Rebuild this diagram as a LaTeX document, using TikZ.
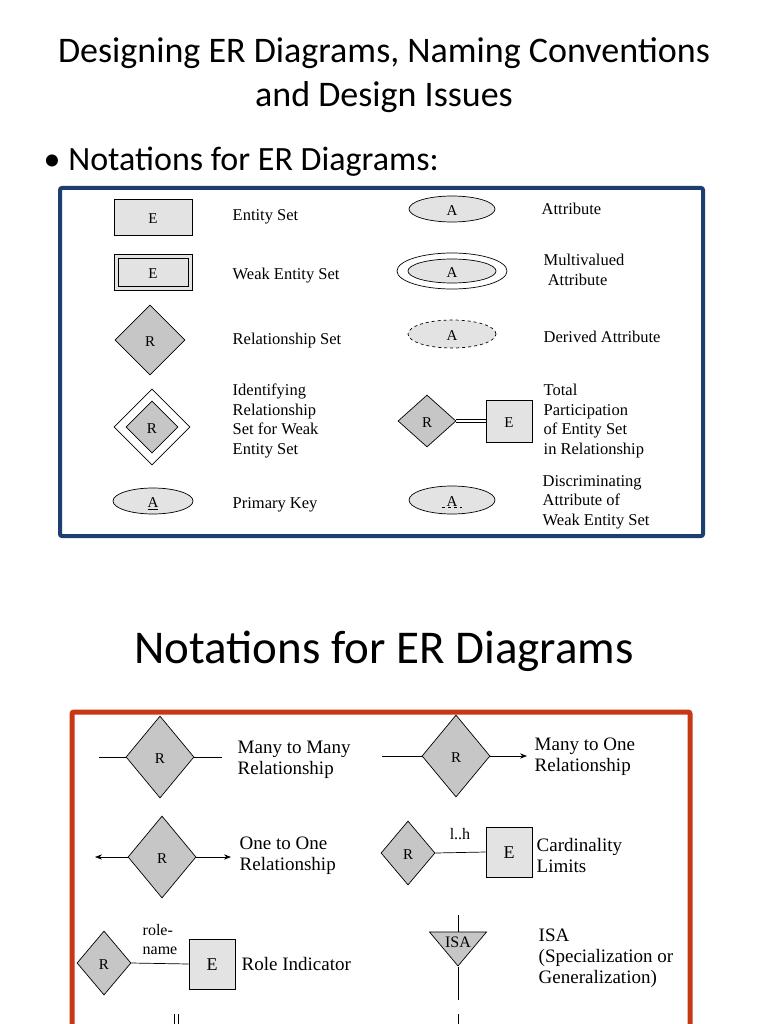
\documentclass[tikz,border=0pt]{standalone}
\usepackage{fontspec}
\setmainfont{Liberation Serif}
\newfontfamily\slidefont{Carlito}
\usetikzlibrary{shapes.geometric,arrows.meta}
\definecolor{boxblue}{RGB}{31,62,112}
\definecolor{boxred}{RGB}{200,55,20}
\tikzset{
    every path/.style={line width=0.7pt},
    ent/.style={draw,fill=gray!22,minimum width=46pt,minimum height=44pt,inner sep=0pt,text height=13pt,text depth=0pt,font=\fontsize{15}{18}\selectfont},
    rel/.style={draw,fill=gray!45,diamond,inner sep=0pt,text height=13pt,text depth=0pt,font=\fontsize{15}{18}\selectfont},
    attr/.style={draw,fill=gray!22,ellipse,inner sep=0pt,text height=13pt,text depth=0pt,font=\fontsize{15}{18}\selectfont},
    lbl/.style={anchor=west,align=left,font=\fontsize{16.5}{19.5}\selectfont},
    big/.style={anchor=west,align=left,font=\fontsize{19}{21}\selectfont}
}
\begin{document}
\begin{tikzpicture}[x=1pt,y=-1pt]
\useasboundingbox (0,0) rectangle (768,1024);
\fill[white] (0,0) rectangle (768,1024);
% titles
\node[font=\slidefont\fontsize{36}{44}\selectfont,align=center] (title) at (384,75)
    {Designing ER Diagrams, Naming Conventions\\and Design Issues};
\node[font=\slidefont\fontsize{34}{40}\selectfont,anchor=west] (bullet) at (40,162) {\textbullet\ Notations for ER Diagrams:};
\node[font=\slidefont\fontsize{47}{54}\selectfont] (heading) at (384,651) {Notations for ER Diagrams};
% blue panel
\draw[boxblue,line width=4pt,rounded corners=2pt] (60,188) rectangle (703,536);
\node[ent,minimum width=78pt,minimum height=36pt] (E1) at (153,217) {E};
\node[lbl] (tE1) at (229,217) {Entity Set};
\node[ent,minimum width=78pt,minimum height=36pt] (E2) at (153,272) {};
\node[draw,minimum width=70pt,minimum height=28pt,inner sep=0pt,text height=13pt,text depth=0pt,font=\fontsize{15}{18}\selectfont] (E2in) at (E2) {E};
\node[lbl] (tE2) at (229,276) {Weak Entity Set};
\node[rel,minimum width=70pt,minimum height=70pt] (R1) at (150,340) {R};
\node[lbl] (tR1) at (229,341) {Relationship Set};
\node[draw,diamond,fill=white,minimum width=76pt,minimum height=76pt] (R2) at (152,427) {};
\node[rel,minimum width=52pt,minimum height=52pt] (R2in) at (R2) {R};
\node[lbl] (tR2) at (229,421) {Identifying\\Relationship\\Set for Weak\\Entity Set};
\node[attr,minimum width=80pt,minimum height=26pt] (A5) at (153,501) {\underline{A}};
\node[lbl] (tA5) at (229,505) {Primary Key};
\node[attr,minimum width=86pt,minimum height=26pt] (A1) at (452,209) {A};
\node[lbl] (tA1) at (538,209) {Attribute};
\node[draw,ellipse,minimum width=110pt,minimum height=36pt] (A2) at (452,271) {};
\node[attr,minimum width=88pt,minimum height=24pt] (A2in) at (A2) {A};
\node[lbl] (tA2) at (540,270) {Multivalued\\\ Attribute};
\node[attr,dashed,minimum width=88pt,minimum height=28pt] (A3) at (452,334) {A};
\node[lbl] (tA3) at (540,337) {Derived Attribute};
\node[rel,minimum width=58pt,minimum height=52pt] (R3) at (427,421) {R};
\node[ent,minimum width=46pt,minimum height=42pt] (E3) at (509,421) {E};
\draw ([yshift=-1.5pt]R3.east) -- ([yshift=-1.5pt]E3.west);
\draw ([yshift=1.5pt]R3.east) -- ([yshift=1.5pt]E3.west);
\node[lbl] (tE3) at (540,421) {Total\\Participation\\of Entity Set\\in Relationship};
\node[attr,minimum width=86pt,minimum height=28pt] (A4) at (452,500) {A};
\draw[dashed] ([xshift=-10pt,yshift=-7pt]A4.center) -- ([xshift=10pt,yshift=-7pt]A4.center);
\node[lbl] (tA4) at (539,502) {Discriminating\\Attribute of\\Weak Entity Set};
% red panel
\draw[boxred,line width=5pt,rounded corners=2pt] (72,1030) -- (72,712) -- (690,712) -- (690,1030);
\node[rel,minimum width=68pt,minimum height=82pt] (R4) at (160,757) {R};
\coordinate (m1) at (99,757);
\coordinate (m2) at (222,757);
\draw (m1) -- (R4.west) (R4.east) -- (m2);
\node[big] (tR4) at (234,760) {Many to Many\\Relationship};
\node[rel,minimum width=68pt,minimum height=82pt] (R5) at (456,756) {R};
\coordinate (o1) at (382,756);
\coordinate (o2) at (527,756);
\draw (o1) -- (R5.west);
\draw[-{Stealth[length=7pt]}] (R5.east) -- (o2);
\node[big] (tR5) at (531,757) {Many to One\\Relationship};
\node[rel,minimum width=68pt,minimum height=82pt] (R6) at (162,857) {R};
\coordinate (n1) at (95,857);
\coordinate (n2) at (231,857);
\draw[-{Stealth[length=7pt]}] (R6.west) -- (n1);
\draw[-{Stealth[length=7pt]}] (R6.east) -- (n2);
\node[big] (tR6) at (236,856) {One to One\\Relationship};
\node[rel,minimum width=54pt,minimum height=64pt] (R7) at (408,853) {R};
\node[ent,minimum width=46pt,minimum height=50pt,font=\fontsize{18}{20}\selectfont] (E7) at (509,852) {E};
\draw (R7.east) -- (E7.west);
\node[font=\fontsize{16}{18}\selectfont] (lh) at (460,834) {l..h};
\node[big] (tE7) at (533,855) {Cardinality\\Limits};
\node[rel,minimum width=54pt,minimum height=64pt] (R8) at (104,963) {R};
\node[ent,minimum width=46pt,minimum height=50pt,font=\fontsize{18}{20}\selectfont] (E8) at (212,964) {E};
\draw (R8.east) -- (E8.west);
\node[font=\fontsize{16}{19}\selectfont,align=left] (role) at (160,940) {role-\\name};
\node[big] (tE8) at (238,964) {Role Indicator};
\node[draw,fill=gray!45,isosceles triangle,shape border rotate=-90,isosceles triangle apex angle=80,inner sep=1pt,minimum height=34pt] (isa) at (458,945) {};
\node[font=\fontsize{16}{18}\selectfont] (isatxt) at (458,942) {ISA};
\coordinate (i1) at (458,915);
\coordinate (i2) at (458,1000);
\draw (i1) -- (isa.north) (isa.apex) -- (i2);
\node[big] (tisa) at (535,958) {ISA\\(Specialization or\\Generalization)};
% cut-off row
\coordinate (c1) at (458,1014);
\coordinate (c2) at (458,1026);
\draw (c1) -- (c2);
\coordinate (d1) at (174,1014);
\coordinate (d2) at (174,1026);
\coordinate (d3) at (178,1014);
\coordinate (d4) at (178,1026);
\draw (d1) -- (d2) (d3) -- (d4);
\end{tikzpicture}
\end{document}
